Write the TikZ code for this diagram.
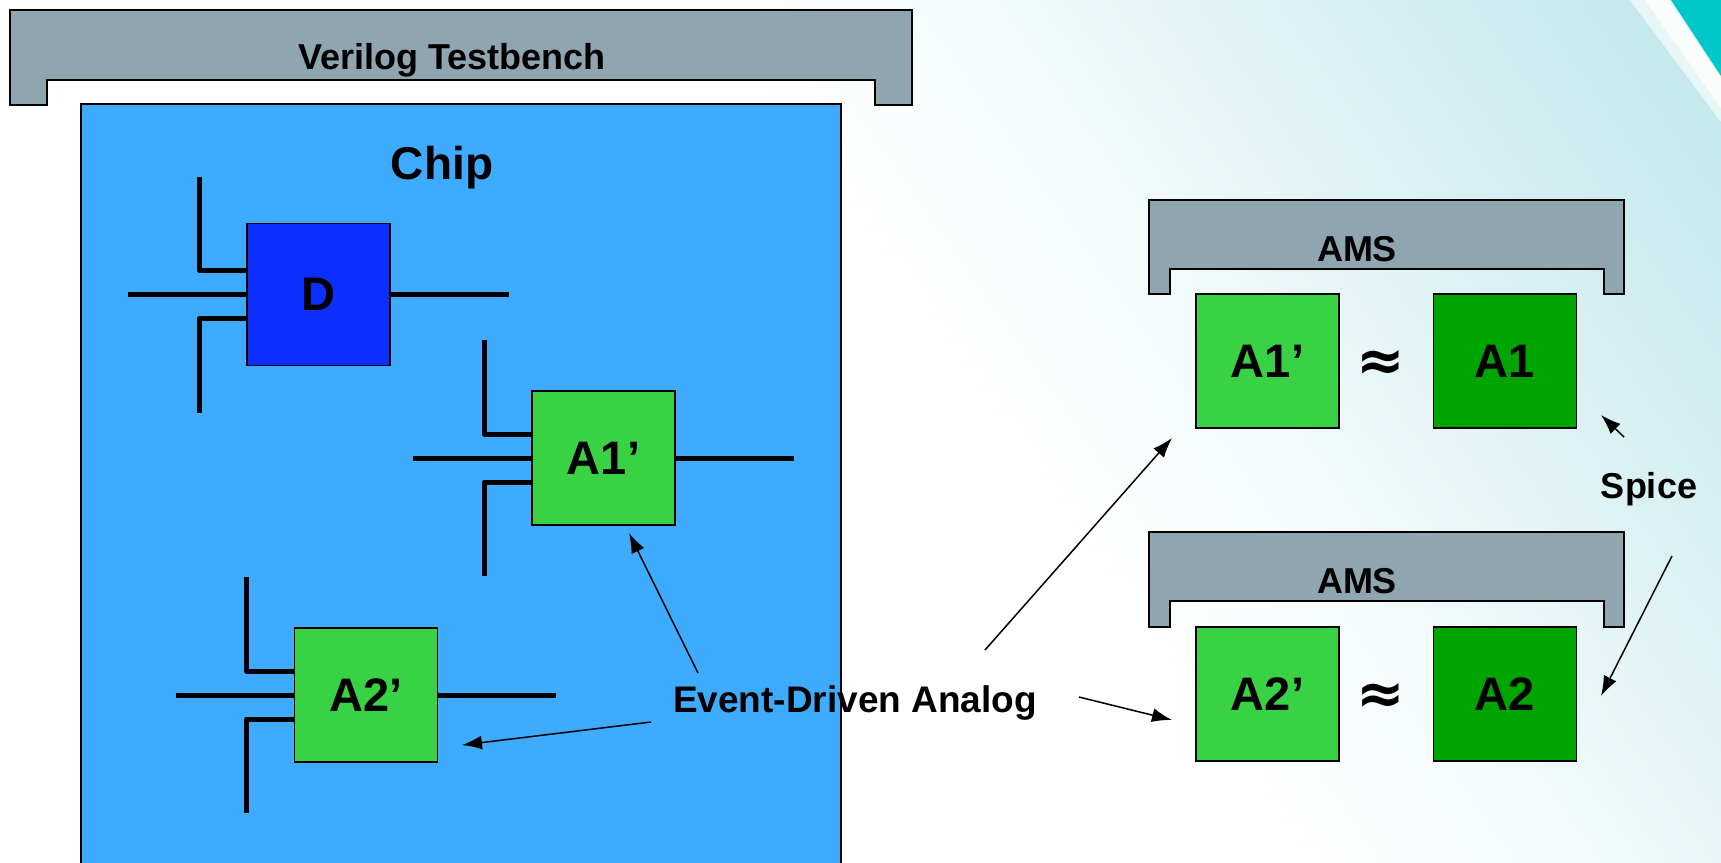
\documentclass[tikz,border=0pt]{standalone}
\usepackage{fontspec}
\setmainfont{Liberation Sans}
\newfontfamily\approxfont{DejaVu Sans}
\usetikzlibrary{arrows.meta}

\definecolor{chipblue}{RGB}{63,171,255}
\definecolor{dblue}{RGB}{12,46,255}
\definecolor{lgreen}{RGB}{58,210,69}
\definecolor{dgreen}{RGB}{0,164,0}
\definecolor{benchgray}{RGB}{143,166,176}
\definecolor{tealcorner}{RGB}{0,200,200}
\definecolor{bgca}{RGB}{242,250,250}
\definecolor{bgcb}{RGB}{218,241,243}
\definecolor{bgcc}{RGB}{192,231,235}
\definecolor{bgcd}{RGB}{178,225,230}

\pgfdeclarehorizontalshading{bgshade}{100bp}{color(0bp)=(white); color(54bp)=(white); color(63bp)=(bgca); color(72bp)=(bgcb); color(85bp)=(bgcc); color(100bp)=(bgcd)}

\newcommand\blockpins[1]{%
  \draw[pinline] ([xshift=-59pt]#1.west) -- (#1.west);
  \draw[pinline] (#1.east) -- ([xshift=59pt]#1.east);
  \draw[pinline] ([xshift=-23.5pt,yshift=59pt]#1.west) |- ([yshift=12pt]#1.west);
  \draw[pinline] ([yshift=-12pt]#1.west) -| ([xshift=-23.5pt,yshift=-59pt]#1.west);
}

\begin{document}
\begin{tikzpicture}[x=0.5pt,y=-0.5pt,
  bracket/.style={draw=black, line width=1pt, fill=benchgray},
  blk/.style={draw=black, line width=0.8pt, inner sep=0pt, text depth=0pt,
              minimum width=71.5pt, minimum height=67pt,
              font=\bfseries\fontsize{23.5}{26}\selectfont},
  pinline/.style={line width=2.5pt, line cap=butt, line join=round},
  biglabel/.style={font=\bfseries\fontsize{18}{21}\selectfont, inner sep=0pt, anchor=base},
  approx/.style={font=\approxfont\bfseries\fontsize{29}{32}\selectfont, inner sep=0pt, anchor=base},
  arr/.style={line width=0.75pt, -{Latex[length=10pt,width=7pt]}}
]
\useasboundingbox (0,0) rectangle (1721,863);
% background
\shade[shading=bgshade, shading angle=35] (0,0) rectangle (1721,863);
\fill[white, opacity=0.6] (1630,0) -- (1672,0) -- (1721,74) -- (1721,122) -- cycle;
\fill[white, opacity=0.85] (1645,0) -- (1668,0) -- (1721,78) -- (1721,108) -- cycle;
\fill[tealcorner] (1671,0) -- (1721,0) -- (1721,76) -- cycle;

% Verilog testbench bracket
\draw[bracket] (10,10) -- (912,10) -- (912,105) -- (875,105) -- (875,80) -- (47,80) -- (47,105) -- (10,105) -- cycle;
\node[biglabel] (vtb) at (452,69) {Verilog Testbench};

% Chip
\draw[fill=chipblue, draw=black, line width=0.6pt] (81,104) rectangle (841,880);
\node[biglabel, font=\bfseries\fontsize{23}{26}\selectfont] (chip) at (442,179) {Chip};

% Blocks inside chip
\node[blk, fill=dblue, minimum height=71pt] (D) at (318.5,294.5) {D};
\node[blk, fill=lgreen] (A1c) at (603.5,458) {A1’};
\node[blk, fill=lgreen] (A2c) at (366,695) {A2’};
\blockpins{D}
\blockpins{A1c}
\blockpins{A2c}

% AMS brackets
\draw[bracket] (1149,200) -- (1624,200) -- (1624,294) -- (1604,294) -- (1604,269) -- (1170,269) -- (1170,294) -- (1149,294) -- cycle;
\node[biglabel] (ams1) at (1357,261) {AMS};
\draw[bracket] (1149,532) -- (1624,532) -- (1624,627) -- (1604,627) -- (1604,601) -- (1170,601) -- (1170,627) -- (1149,627) -- cycle;
\node[biglabel] (ams2) at (1357,593) {AMS};

% Right blocks
\node[blk, fill=lgreen] (A1r) at (1267.5,361) {A1’};
\node[blk, fill=dgreen] (A1s) at (1505,361) {A1};
\node[approx] (ap1) at (1381,380) {≈};
\node[blk, fill=lgreen] (A2r) at (1267.5,694) {A2’};
\node[blk, fill=dgreen] (A2s) at (1505,694) {A2};
\node[approx] (ap2) at (1381,713) {≈};

% Labels
\node[biglabel, font=\bfseries\fontsize{18.5}{21}\selectfont] (eda) at (855,712) {Event-Driven Analog};
\node[biglabel] (spice) at (1649,498) {Spice};

% arrow end points
\coordinate (e1s) at (698,673);  \coordinate (e1t) at (629,533);
\coordinate (e2s) at (651,722);  \coordinate (e2t) at (462,745);
\coordinate (e3s) at (985,650);  \coordinate (e3t) at (1172,438);
\coordinate (e4s) at (1079,697); \coordinate (e4t) at (1172,720);
\coordinate (s1s) at (1624,437); \coordinate (s1t) at (1601,415);
\coordinate (s2s) at (1672,556); \coordinate (s2t) at (1601,696);

\draw[arr] (e1s) -- (e1t);
\draw[arr] (e2s) -- (e2t);
\draw[arr] (e3s) -- (e3t);
\draw[arr] (e4s) -- (e4t);
\draw[arr] (s1s) -- (s1t);
\draw[arr] (s2s) -- (s2t);
\end{tikzpicture}
\end{document}
